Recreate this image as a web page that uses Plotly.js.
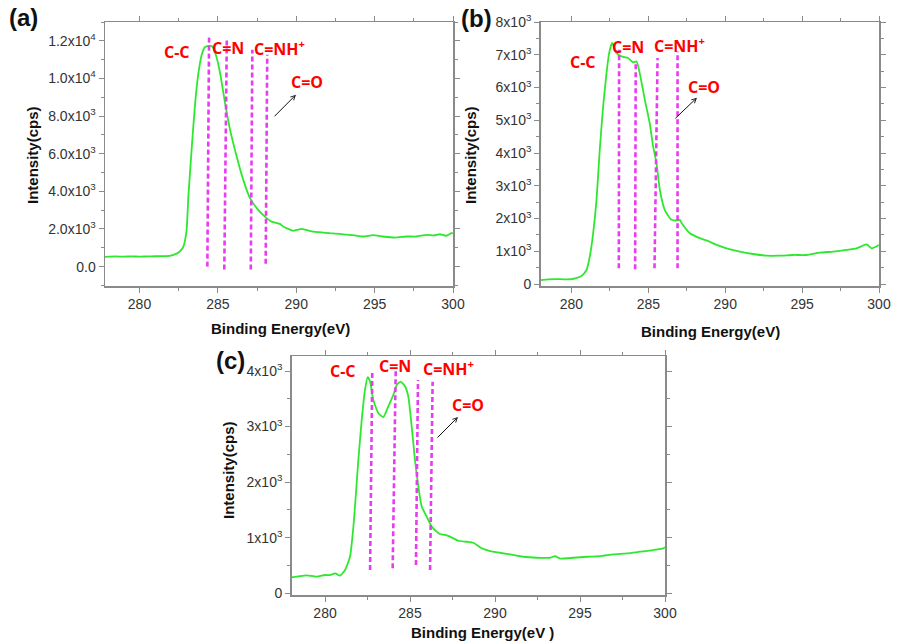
<!DOCTYPE html>
<html>
<head>
<meta charset="utf-8">
<script src="https://cdn.plot.ly/plotly-3.0.1.min.js"></script>
<style>html,body{margin:0;padding:0;background:#fff;}#chart{width:898px;height:643px;}</style>
</head>
<body>
<div id="chart"></div>
<script>
// ---------- data ----------
const energyA = [277.8,278.5,279,279.5,280,280.5,281,281.5,282,282.3,282.5,282.65,282.8,283.0,283.12,283.34,283.55,283.76,283.97,284.18,284.5,284.71,284.93,285.14,285.46,285.78,286.2,286.62,287.05,287.48,288.0,288.43,288.96,289.17,289.8,290.03,290.34,291.08,291.6,292.15,292.78,293.2,293.63,294.27,294.9,295.54,296.29,297.03,297.67,298.3,298.8,299.15,299.58,299.9,300];
const intensityA = [520,540,530,545,530,545,550,560,590,660,760,880,1064,1900,3723,6383,8690,10290,11260,11670,11740,11620,11080,10290,8690,7270,5850,4610,3640,3110,2660,2390,2270,2130,1900,1950,2005,1860,1820,1775,1740,1700,1670,1600,1670,1600,1545,1600,1600,1690,1660,1720,1640,1780,1760];

const energyB = [277.98,278.5,279,279.5,280,280.3,280.65,280.98,281.19,281.41,281.63,281.84,282.06,282.28,282.45,282.64,282.71,282.93,283.25,283.68,284.01,284.23,284.44,284.77,285.09,285.31,285.53,285.75,286.07,286.51,286.83,287.05,287.16,287.7,288.35,289.0,289.21,290.08,290.95,291.81,292.69,293.55,294.42,295.29,296.15,297.02,297.89,298.54,299.19,299.52,300];
const intensityB = [120,140,150,145,150,180,245,428,835,1550,2570,4100,5420,6440,7050,7360,7310,7050,6950,6900,6770,6800,6440,5630,4910,4200,3690,2870,2260,1960,1940,1960,1860,1550,1400,1290,1240,1090,990,917,866,866,887,887,958,990,1040,1090,1210,1090,1190];

const energyC = [278.04,278.5,278.92,279.5,280,280.29,280.6,280.88,281.18,281.47,281.67,281.82,281.96,282.16,282.35,282.51,282.65,282.84,283.14,283.43,283.72,284.02,284.22,284.45,284.71,284.9,285.1,285.29,285.49,285.69,285.98,286.28,286.57,286.76,287.06,287.35,287.84,288.34,288.72,289.22,289.71,290.29,290.88,291.66,292.45,293.24,293.53,293.82,294.61,295.39,296.18,296.96,297.75,298.53,299.31,299.9,300];
const intensityC = [288,310,324,300,330,329,360,317,419,659,1198,1800,2400,3120,3660,3890,3810,3480,3240,3170,3360,3570,3750,3810,3720,3540,3000,2400,1920,1560,1380,1200,1110,1067,1050,1020,946,928,910,810,761,730,702,658,640,640,670,625,640,658,671,702,720,749,779,810,830];

// component marker lines (dashed) : x at top / bottom, y extent
const markTopA = [284.44,285.57,287.2,288.15], markBotA = [284.33,285.41,287.1,288.05];
const markY1A = [12320,12060,11530,11260], markY0A = [0,-150,-150,150];
const markTopB = [283.1,284.18,285.6,286.9], markBotB = [283.08,284.14,285.4,286.9];
const markY1B = [7155,6750,6900,7100], markY0B = [480,450,480,480];
const markTopC = [282.78,284.16,285.47,286.33], markBotC = [282.65,283.98,285.35,286.18];
const markY1C = [3987,4017,3837,3807], markY0C = [419,450,509,419];

// peak labels
const peakLabels = ["C-C","C=N","C=NH<sup>+</sup>","C=O"];
const labelXA = [282.40,285.65,288.96,290.68], labelYA = [11420,11633,11633,9824];
const labelXB = [280.74,283.66,287.05,288.61], labelYB = [6789,7247,7309,6024];
const labelXC = [281.06,284.12,287.24,288.41], labelYC = [3999,4089,4053,3388];
// C=O arrows: [tailX, tailY, headX, headY]
const arrowA = [288.52,7909,289.98,9133];
const arrowB = [286.66,5015,288.16,5688];
const arrowC = [286.53,2776,287.82,3172];

// tick labels
const xTicks = [280,285,290,295,300];
const yTickValsA = [0,2000,4000,6000,8000,10000,12000];
const yTickTextA = ["0.0","2.0x10<sup>3</sup>","4.0x10<sup>3</sup>","6.0x10<sup>3</sup>","8.0x10<sup>3</sup>","1.0x10<sup>4</sup>","1.2x10<sup>4</sup>"];
const yTickValsB = [0,1000,2000,3000,4000,5000,6000,7000,8000];
const yTickTextB = ["0","1x10<sup>3</sup>","2x10<sup>3</sup>","3x10<sup>3</sup>","4x10<sup>3</sup>","5x10<sup>3</sup>","6x10<sup>3</sup>","7x10<sup>3</sup>","8x10<sup>3</sup>"];
const yTickValsC = [0,1000,2000,3000,4000];
const yTickTextC = ["0","1x10<sup>3</sup>","2x10<sup>3</sup>","3x10<sup>3</sup>","4x10<sup>3</sup>"];

// ---------- drawing ----------
const GREEN = '#2ee82e', MAG = '#e83cf0', FRAME = '#8a8a8a';
const FONT = 'Liberation Sans, Arial, sans-serif';

const traces = [
  {x: energyA, y: intensityA, xaxis:'x', yaxis:'y'},
  {x: energyB, y: intensityB, xaxis:'x2', yaxis:'y2'},
  {x: energyC, y: intensityC, xaxis:'x3', yaxis:'y3'}
].map(t => Object.assign(t, {type:'scatter', mode:'lines', line:{color:GREEN, width:1.8, shape:'spline', smoothing:0.5}, hoverinfo:'skip', showlegend:false}));

const shapes = [];
function addMarks(top, bot, y1, y0, xr, yr) {
  for (let i = 0; i < top.length; i++) {
    shapes.push({type:'line', xref:xr, yref:yr, x0:bot[i], x1:top[i], y0:y0[i], y1:y1[i],
      line:{color:MAG, width:2.6, dash:'5px,3px'}});
  }
}
addMarks(markTopA, markBotA, markY1A, markY0A, 'x', 'y');
addMarks(markTopB, markBotB, markY1B, markY0B, 'x2', 'y2');
addMarks(markTopC, markBotC, markY1C, markY0C, 'x3', 'y3');

const annotations = [];
function addLabels(xs, ys, xr, yr) {
  for (let i = 0; i < xs.length; i++) {
    annotations.push({xref:xr, yref:yr, x:xs[i], y:ys[i], text:'<b>'+peakLabels[i]+'</b>', showarrow:false,
      font:{family:'Open Sans, Liberation Sans, sans-serif', size:16, color:'#ff0000'}});
  }
}
function addArrow(a, xr, yr) {
  annotations.push({xref:xr, yref:yr, axref:xr, ayref:yr, x:a[2], y:a[3], ax:a[0], ay:a[1], text:'',
    showarrow:true, arrowhead:5, arrowsize:0.9, arrowwidth:1, arrowcolor:'#111'});
}
addLabels(labelXA, labelYA, 'x', 'y'); addArrow(arrowA, 'x', 'y');
addLabels(labelXB, labelYB, 'x2', 'y2'); addArrow(arrowB, 'x2', 'y2');
addLabels(labelXC, labelYC, 'x3', 'y3'); addArrow(arrowC, 'x3', 'y3');

// panel letters and axis titles (paper coords)
function paperText(txt, px, py, size, angle) {
  annotations.push({xref:'paper', yref:'paper', x:px/898, y:1-py/643, text:'<b>'+txt+'</b>', showarrow:false,
    xanchor:'center', yanchor:'middle', textangle:angle||0, font:{family:FONT, size:size, color:'#111'}});
}
paperText('(a)', 23, 17, 24); paperText('(b)', 476, 18, 24); paperText('(c)', 231, 360, 24);
paperText('Intensity(cps)', 32, 155, 15, -90);
paperText('Intensity(cps)', 470, 155, 15, -90);
paperText('Intensity(cps)', 228, 470, 15, -90);
paperText('Binding Energy(eV)', 280, 328, 15);
paperText('Binding Energy(eV)', 710, 331, 15);
paperText('Binding Energy(eV )', 482, 632, 15);

function xax(domain) {
  return {domain:domain, range:[277.9,300], tickvals:xTicks, ticks:'outside', ticklen:5, tickcolor:FRAME,
    showline:true, linecolor:FRAME, linewidth:1.5, mirror:'ticks', showgrid:false, zeroline:false,
    minor:{dtick:2.5, tick0:280, ticks:'outside', ticklen:3, tickcolor:FRAME, showgrid:false},
    tickfont:{family:FONT, size:14, color:'#333'}, fixedrange:true};
}
function yax(domain, range, vals, text, minorStep) {
  return {domain:domain, range:range, tickvals:vals, ticktext:text, ticks:'outside', ticklen:5, tickcolor:FRAME,
    showline:true, linecolor:FRAME, linewidth:1.5, mirror:'ticks', showgrid:false, zeroline:false,
    minor:{dtick:minorStep, tick0:0, ticks:'outside', ticklen:3, tickcolor:FRAME, showgrid:false},
    tickfont:{family:FONT, size:14, color:'#333'}, fixedrange:true};
}

const xa = xax([105/898, 453/898]); xa.range = [277.8, 300];
const xb = xax([540.7/898, 879/898]); xb.range = [278.0, 300];
const xc = xax([291.7/898, 665/898]); xc.range = [278.04, 300];

const layout = {
  width:898, height:643, margin:{l:0, r:0, t:0, b:0}, paper_bgcolor:'#fff', plot_bgcolor:'#fff',
  showlegend:false,
  xaxis: Object.assign(xa, {anchor:'y'}),
  yaxis: Object.assign(yax([1-286/643, 1-22/643], [-1030, 13000], yTickValsA, yTickTextA, 1000), {anchor:'x'}),
  xaxis2: Object.assign(xb, {anchor:'y2'}),
  yaxis2: Object.assign(yax([1-286/643, 1-22/643], [-60, 8000], yTickValsB, yTickTextB, 500), {anchor:'x2'}),
  xaxis3: Object.assign(xc, {anchor:'y3'}),
  yaxis3: Object.assign(yax([1-595/643, 1-356/643], [-30, 4270], yTickValsC, yTickTextC, 500), {anchor:'x3'}),
  shapes: shapes,
  annotations: annotations
};

Plotly.newPlot('chart', traces, layout, {staticPlot:true, displayModeBar:false});
</script>
</body>
</html>
